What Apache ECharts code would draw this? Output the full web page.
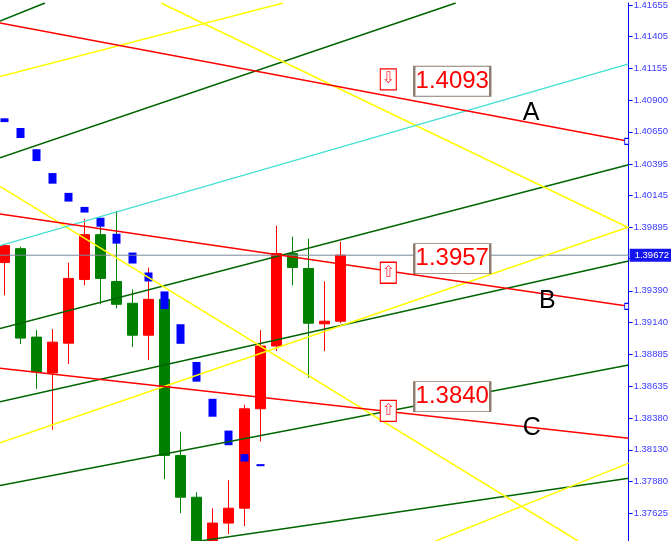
<!DOCTYPE html>
<html>
<head>
<meta charset="utf-8">
<script src="https://cdn.jsdelivr.net/npm/echarts@6/dist/echarts.min.js"></script>
<style>
html,body{margin:0;padding:0;background:#fff;}
#chart{width:671px;height:541px;}
</style>
</head>
<body>
<div id="chart"></div>
<script>
// ---- price axis ----
const priceMin = 1.37407;
const priceMax = 1.41671;
const tickValues = [1.41655, 1.41405, 1.41155, 1.40900, 1.40650, 1.40395, 1.40145, 1.39895, 1.39645,
  1.39390, 1.39140, 1.38885, 1.38635, 1.38380, 1.38130, 1.37880, 1.37625];
const barMin = -0.28125;
const barMax = 39.03125;
const currentPrice = 1.39672;

// ---- candles (bar index, OHLC) ----
const candleIdx = [0, 1, 2, 3, 4, 5, 6, 7, 8, 9, 10, 11, 12, 13, 14, 15, 16, 17, 18, 19, 20, 21];
const candleOpen = [1.39614, 1.39724, 1.39023, 1.38739, 1.38975, 1.39480, 1.39835, 1.39464, 1.39291, 1.39038, 1.39322,
  1.38085, 1.37754, 1.37383, 1.37549, 1.37667, 1.38455, 1.38952, 1.39685, 1.39567, 1.39128, 1.39149];
const candleClose = [1.39748, 1.39015, 1.38747, 1.38983, 1.39488, 1.39835, 1.39488, 1.39283, 1.39038, 1.39322, 1.38085,
  1.37754, 1.37375, 1.37549, 1.37667, 1.38455, 1.38952, 1.39685, 1.39574, 1.39133, 1.39149, 1.39672];
const candleLow = [1.39354, 1.38968, 1.38613, 1.38290, 1.38810, 1.39433, 1.39283, 1.39251, 1.38944, 1.38841, 1.37896,
  1.37628, 1.37336, 1.37352, 1.37462, 1.37525, 1.38195, 1.38912, 1.39433, 1.38700, 1.38912, 1.39133];
const candleHigh = [1.39756, 1.39740, 1.39078, 1.39086, 1.39614, 1.39961, 1.39953, 1.40024, 1.39401, 1.39574, 1.39377,
  1.38274, 1.37793, 1.37667, 1.37888, 1.38487, 1.39078, 1.39905, 1.39819, 1.39803, 1.39464, 1.39779];

// ---- blue indicator boxes ----
const markerIdx = [0, 1, 2, 3, 4, 5, 6, 7, 8, 9, 10, 11, 12, 13, 14, 15, 16];
const markerTop = [1.40757, 1.40680, 1.40512, 1.40323, 1.40166, 1.40055, 1.39969, 1.39842, 1.39693, 1.39535, 1.39385,
  1.39125, 1.38826, 1.38534, 1.38282, 1.38095, 1.38016];
const markerBottom = [1.40727, 1.40601, 1.40418, 1.40239, 1.40097, 1.40010, 1.39898, 1.39764, 1.39606, 1.39464, 1.39246,
  1.38970, 1.38670, 1.38392, 1.38166, 1.38037, 1.38000];

// ---- trend lines: [bar index, price] end points ----
const redLines = [
  [[-0.281, 1.41513], [39.031, 1.40575]],
  [[-0.281, 1.39998], [39.031, 1.39267]],
  [[-0.281, 1.38776], [39.031, 1.38221]]
];
const cyanLines = [
  [[-0.281, 1.39748], [39.031, 1.41189]]
];
const greenLines = [
  [[-0.281, 1.41527], [2.531, 1.41671]],
  [[-0.281, 1.40445], [28.22, 1.41671]],
  [[-0.281, 1.39091], [39.031, 1.40389]],
  [[-0.281, 1.38510], [39.031, 1.39626]],
  [[-0.281, 1.37846], [39.031, 1.38802]],
  [[12.22, 1.37407], [39.031, 1.37905]]
];
const yellowLines = [
  [[-0.281, 1.41088], [17.425, 1.41671]],
  [[9.781, 1.41671], [39.031, 1.39890]],
  [[-0.281, 1.40218], [35.863, 1.37407]],
  [[-0.281, 1.38185], [39.031, 1.39895]],
  [[26.969, 1.37407], [39.031, 1.38024]]
];
const currentPriceLine = [[barMin, currentPrice], [barMax, currentPrice]];

// ---- annotations ----
const priceLabels = ['1.4093', '1.3957', '1.3840'];
const priceLabelIdx = [28.0, 28.0, 28.0];
const priceLabelY = [1.41050, 1.39645, 1.38551];
const arrowGlyphs = ['\u21E9', '\u21E7', '\u21E7'];
const arrowIdx = [24.0, 24.0, 24.0];
const arrowY = [1.41066, 1.39533, 1.38438];
const lineLetters = ['A', 'B', 'C'];
const letterIdx = [32.93, 33.95, 32.97];
const letterY = [1.40798, 1.39306, 1.38298];
const handleIdx = [38.91, 38.91];
const handleY = [1.40575, 1.39267];

// ---- build ----
const candleData = candleIdx.map((x, i) => [x, candleOpen[i], candleClose[i], candleLow[i], candleHigh[i]]);
const markerData = markerIdx.map((x, i) => [x, markerBottom[i], markerTop[i], markerBottom[i], markerTop[i]]);

function lineSeries(list, color, width) {
  return list.map(pts => ({
    type: 'line', data: pts, showSymbol: false, symbol: 'none', silent: true,
    lineStyle: { color: color, width: width }, z: 4, clip: true, animation: false
  }));
}

const markPts = [];
priceLabels.forEach((t, i) => markPts.push({
  coord: [priceLabelIdx[i], priceLabelY[i]], symbol: 'rect', symbolSize: [76, 30],
  itemStyle: { color: '#ffffff', borderColor: '#8c7b6e', borderWidth: 1.5 },
  label: { show: true, position: 'inside', formatter: t, color: '#ff0000', fontSize: 24,
    fontFamily: 'Liberation Sans, Arial, sans-serif' }
}));
arrowGlyphs.forEach((t, i) => markPts.push({
  coord: [arrowIdx[i], arrowY[i]], symbol: 'rect', symbolSize: [16, 21],
  itemStyle: { color: '#ffffff', borderColor: '#ff0000', borderWidth: 1.2 },
  label: { show: true, position: 'inside', formatter: t, color: '#ff3344', fontSize: 16,
    fontFamily: 'DejaVu Sans, sans-serif' }
}));
lineLetters.forEach((t, i) => markPts.push({
  coord: [letterIdx[i], letterY[i]], symbol: 'circle', symbolSize: 1,
  itemStyle: { color: 'rgba(0,0,0,0)' },
  label: { show: true, position: 'inside', formatter: t, color: '#000000', fontSize: 25,
    fontFamily: 'Liberation Sans, Arial, sans-serif' }
}));
handleIdx.forEach((x, i) => markPts.push({
  coord: [x, handleY[i]], symbol: 'rect', symbolSize: [4, 6],
  itemStyle: { color: '#ffffff', borderColor: '#0000ff', borderWidth: 1 },
  label: { show: false }
}));

const series = [
  {
    type: 'line', name: 'current', data: currentPriceLine, showSymbol: false, symbol: 'none', silent: true,
    lineStyle: { color: '#778899', width: 1 }, z: 4, animation: false,
    endLabel: { show: true, distance: 1, formatter: currentPrice.toFixed(5),
      color: '#ffffff', backgroundColor: '#1414f0', padding: [2, 4, 1, 5], fontSize: 9.5, lineHeight: 10,
      fontFamily: 'Liberation Sans, Arial, sans-serif' }
  },
  {
    type: 'candlestick', name: 'price', data: candleData,
    dimensions: ['idx', 'open', 'close', 'lowest', 'highest'],
    encode: { x: 'idx', y: ['open', 'close', 'lowest', 'highest'] },
    barWidth: 10, z: 2, animation: false,
    itemStyle: { color: '#ff0000', color0: '#008000', borderColor: '#ff0000', borderColor0: '#008000', borderWidth: 1 }
  },
  {
    type: 'candlestick', name: 'marker', data: markerData,
    dimensions: ['idx', 'open', 'close', 'lowest', 'highest'],
    encode: { x: 'idx', y: ['open', 'close', 'lowest', 'highest'] },
    barWidth: 9, z: 3, animation: false,
    itemStyle: { color: '#0000ff', color0: '#0000ff', borderColor: '#0000ff', borderColor0: '#0000ff', borderWidth: 0 }
  }
].concat(
  lineSeries(greenLines, '#006400', 1.5),
  lineSeries(yellowLines, '#ffff00', 1.5),
  lineSeries(cyanLines, '#40e0d0', 1.3),
  lineSeries(redLines, '#ff0000', 1.5),
  [{
    type: 'scatter', data: [], z: 6, silent: true, animation: false,
    markPoint: { silent: true, animation: false, data: markPts }
  }]
);

const chart = echarts.init(document.getElementById('chart'), null, { renderer: 'canvas' });
chart.setOption({
  animation: false,
  backgroundColor: '#ffffff',
  grid: { left: 0, right: 42, top: 0, bottom: 0, containLabel: false },
  xAxis: { type: 'value', min: barMin, max: barMax, show: false },
  yAxis: {
    type: 'value', position: 'right', min: priceMin, max: priceMax,
    axisLine: { show: true, onZero: false, lineStyle: { color: '#0000ff', width: 1 } },
    axisTick: { show: true, length: 4, lineStyle: { color: '#0000ff' }, customValues: tickValues },
    axisLabel: { show: true, margin: 5, color: '#3a3aff', fontSize: 9.5,
      fontFamily: 'Liberation Sans, Arial, sans-serif', customValues: tickValues,
      formatter: v => v.toFixed(5) },
    splitLine: { show: false }
  },
  series: series
});
</script>
</body>
</html>
